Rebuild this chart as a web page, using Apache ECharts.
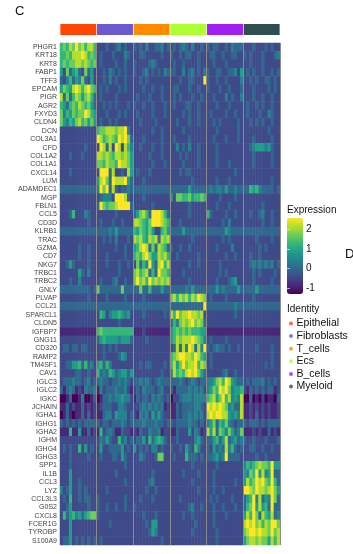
<!DOCTYPE html>
<html>
<head>
<meta charset="utf-8">
<title>Marker gene heatmap</title>
<script src="https://cdn.jsdelivr.net/npm/echarts@6/dist/echarts.min.js"></script>
<style>
  html, body { margin: 0; padding: 0; background: #fff; }
  #chart { width: 353px; height: 554px; }
</style>
</head>
<body>
<div id="chart"></div>
<script>
const groupNames = ['Epithelial', 'Fibroblasts', 'T_cells', 'Ecs', 'B_cells', 'Myeloid']
const groupColors = ['#FF4500', '#6A5ACD', '#FF8C00', '#ADFF2F', '#A020F0', '#2F4F4F']
const bandValues = [1, 1, 1, 1, 1, 1]
const cellsPerGroup = 12

const geneNames = [
    'PHGR1', 'KRT18', 'KRT8', 'FABP1', 'TFF3', 'EPCAM', 'PIGR', 'AGR2', 'FXYD3', 'CLDN4',
    'DCN', 'COL3A1', 'CFD', 'COL1A2', 'COL1A1', 'CXCL14', 'LUM', 'ADAMDEC1', 'MGP', 'FBLN1',
    'CCL5', 'CD3D', 'KLRB1', 'TRAC', 'GZMA', 'CD7', 'NKG7', 'TRBC1', 'TRBC2', 'GNLY',
    'PLVAP', 'CCL21', 'SPARCL1', 'CLDN5', 'IGFBP7', 'GNG11', 'CD320', 'RAMP2', 'TM4SF1', 'CAV1',
    'IGLC3', 'IGLC2', 'IGKC', 'JCHAIN', 'IGHA1', 'IGHG1', 'IGHA2', 'IGHM', 'IGHG4', 'IGHG3',
    'SPP1', 'IL1B', 'CCL3', 'LYZ', 'CCL3L3', 'G0S2', 'CXCL8', 'FCER1G', 'TYROBP', 'S100A9',
]

// each digit is one cell, looked up in levelValues
const levelValues = [-1.3, -0.87, -0.43, 0, 0.43, 0.87, 1.3, 1.73, 2.17, 2.6]

const epithelialRows = [
    '676879786886 222322342322 323242233423 232343242232 323322324333 222322232322',
    '667688898676 232223222432 223322222322 322323322322 233223223322 323222322234',
    '676778878767 232222322322 322223432222 232232222322 223222322222 223222322222',
    '527356327352 223243232322 322342323243 332242342324 322332233425 232322322323',
    '324635473252 223242322322 223232222222 222322332229 322322322224 223232233232',
    '576589868976 232322232322 222322322322 233222322322 322232232223 222322223232',
    '837368757863 232222322222 232223222322 232322232232 223222423224 222322322322',
    '653676876753 223232322232 322322322232 232223322322 222322232222 232232322322',
    '746576779865 222322232322 232222322232 222232322322 232222322322 232223224322',
    '754657867575 232232322222 223222232222 223222322322 223232222232 223232322322',
]
const fibroblastRows = [
    '222222222222 677888788942 222222322322 222232222222 222322222232 222222223222',
    '222222222222 986787698973 222322222322 232222322222 223222322232 222322222322',
    '222222223222 298382982864 223222322322 224232422322 222322222222 223455545322',
    '222322232222 887876887875 222223222322 222323222322 222322222222 222322222322',
    '222222222222 776877698875 222222322232 222232222322 222322232222 222322222322',
    '222322222222 299938223285 232223222222 222323322222 222222222322 222222222222',
    '222222222222 589739888953 222322222222 222222232222 222322232222 222222222322',
    '333333333333 497938323343 333333333333 333333533333 343443533433 336564333323',
    '222222222222 234442999832 222322222222 527766756676 222232222322 222222222222',
    '222222222222 397677899993 222222322222 222222322222 222322232222 222222322222',
]
const tCellRows = [
    '222362224322 222222322222 357863999863 222222322222 632222322322 223223422322',
    '222222222322 232223223222 887657999876 222322222222 222223242222 222222322322',
    '333333333333 333343533333 657657522675 333353333333 333333543333 333333333333',
    '222222222222 223232422232 878658783878 222222232222 222223232222 222232222322',
    '222222322322 222222322322 568983738763 322322322222 222322224222 222223232222',
    '222222322322 222322222322 676897558786 223222222322 222222322322 223223222222',
    '223532222322 222322232232 273649538968 222222322322 222232222222 223434343423',
    '222222532422 222222232222 786783639776 222232222222 222232322222 222323222232',
    '222322422222 232223422322 797869787878 222222322222 222322234522 222322222322',
    '333333333323 733333337333 337336333533 333334353333 333534333353 333353333333',
]
const endothelialRows = [
    '222222222322 222322222322 222322222222 786878687987 232222322222 222322222222',
    '333333333333 333333333333 333333333333 333333333339 333333333433 333333333333',
    '222222222222 265245565452 222322222232 869788988782 222222222322 222222222222',
    '222222222222 222222232222 222222222222 364787897873 222222222222 222222222222',
    '111111111111 676666666666 111211111111 567676766655 111111111111 111111111111',
    '222222222222 356555545553 222232222222 568788898764 232222322222 222222222222',
    '233233233222 223232322222 222222222222 238384983849 323433232232 222232222322',
    '222222222222 223222235422 222222222222 678998879865 232222222222 222222222322',
    '223355636342 563642222222 223233222232 685797889687 232222222222 222222232322',
    '222223322322 634365345535 222222222322 486768989753 222223422322 222222222222',
]
const bCellRows = [
    '233343323423 343323343432 334343234333 333432343233 445786985433 232333423232',
    '313431214334 142333433421 232433323422 313333434342 457698974556 213232323312',
    '001300140013 013343445442 132332434323 022344434444 678579684548 003010201103',
    '113121131212 123332244322 223434343412 113233334432 989898745338 112121212112',
    '013101131312 113442544423 214342535322 113233434342 898998854548 112131212112',
    '323232323333 323323334323 333433343323 323333433232 457365743233 323332323333',
    '111611511312 162343113221 213224334122 113222524312 858376475347 111212113121',
    '222222222222 243532263423 233526356532 223222224532 335635834534 322322232223',
    '232322625232 252233335232 523232442322 322325326422 325343846323 223322322322',
    '222322222322 232223325322 224322237722 232226333232 334534933332 222232232222',
]
const myeloidRows = [
    '222322222222 222222222322 222222222222 222222232222 222322222222 465678776955',
    '222522222222 222222322222 222222322222 222232222322 223222222222 547695845933',
    '222522322222 222222222322 222223422222 222222232222 223222222322 586798976963',
    '423522323222 222322222222 222232232222 222222222322 223223222222 998798878975',
    '232622323322 322222222322 223222322222 222322222222 232322223222 356948354973',
    '223522222322 322322322322 322222222222 222222342232 223223222322 367958563933',
    '263564535677 322222222222 222322232222 222232232222 223222322222 586973865834',
    '222522222222 222232222222 222232552222 222222223222 223222222222 898978687997',
    '222522222222 222222222222 222223542222 222222232222 222322222222 789989887978',
    '233523232323 232222222222 222222222322 222222222222 222322222222 578878775868',
]
const expressionRows = [].concat(epithelialRows, fibroblastRows, tCellRows, endothelialRows, bCellRows, myeloidRows)

const legendTicks = [-1, 0, 1, 2]
const viridis = ['#440154', '#482878', '#3E4A89', '#31688E', '#26828E', '#1F9E89', '#35B779', '#6DCD59', '#B4DE2C', '#FDE725']

const cellNames = []
for (let g = 0; g < groupNames.length; g++) {
    for (let c = 0; c < cellsPerGroup; c++) {
        cellNames.push(groupNames[g] + '_' + c)
    }
}

const cells = []
expressionRows.forEach(function (row, y) {
    row.replace(/ /g, '').split('').forEach(function (level, x) {
        cells.push([x, y, levelValues[+level]])
    })
})

const font = 'Liberation Sans'
const chart = echarts.init(document.getElementById('chart'), null, { renderer: 'canvas' })

const legendSeries = groupNames.map(function (name, i) {
    return {
        name: name,
        type: 'scatter',
        xAxisIndex: 1,
        yAxisIndex: 1,
        data: [],
        itemStyle: { color: groupColors[i] },
    }
})

chart.setOption({
    animation: false,
    backgroundColor: '#fff',
    grid: [
        { left: 60, top: 43, width: 220, height: 502 },
        { left: 60, top: 24, width: 220, height: 11 },
        { left: 287, top: 218, width: 16, height: 76 },
    ],
    xAxis: [
        {
            type: 'category',
            gridIndex: 0,
            data: cellNames,
            z: 5,
            axisLine: { show: false },
            axisTick: { show: false },
            axisLabel: { show: false },
            splitArea: { show: false },
            splitLine: {
                show: true,
                interval: function (i) { return i > 0 && i % cellsPerGroup === 0 },
                lineStyle: { color: '#8c8c8c', width: 1 },
            },
        },
        {
            type: 'category',
            gridIndex: 1,
            data: groupNames,
            axisLine: { show: false },
            axisTick: { show: false },
            axisLabel: { show: false },
            splitLine: { show: false },
        },
        { type: 'value', gridIndex: 2, min: 0, max: 1, show: false },
    ],
    yAxis: [
        {
            type: 'category',
            gridIndex: 0,
            inverse: true,
            data: geneNames,
            axisLine: { show: false },
            axisTick: { show: false },
            splitLine: { show: false },
            axisLabel: { interval: 0, fontSize: 7, fontFamily: font, color: '#444', margin: 3 },
        },
        { type: 'value', gridIndex: 1, min: 0, max: 1, show: false },
        {
            type: 'value',
            gridIndex: 2,
            position: 'right',
            min: -1.3,
            max: 2.6,
            z: 6,
            axisLine: { show: false },
            splitLine: { show: false },
            axisTick: { inside: true, length: 3, lineStyle: { color: '#fff', width: 0.6 }, customValues: legendTicks },
            axisLabel: {
                fontSize: 10,
                fontFamily: font,
                color: '#111',
                margin: 3,
                customValues: legendTicks,
                formatter: function (v) { return String(v) },
            },
        },
        {
            type: 'value',
            gridIndex: 2,
            position: 'left',
            min: -1.3,
            max: 2.6,
            z: 6,
            axisLine: { show: false },
            splitLine: { show: false },
            axisLabel: { show: false },
            axisTick: { inside: true, length: 3, lineStyle: { color: '#fff', width: 0.6 }, customValues: legendTicks },
        },
    ],
    visualMap: {
        type: 'continuous',
        seriesIndex: 0,
        min: -1.3,
        max: 2.6,
        left: 287,
        top: 218,
        itemWidth: 16,
        itemHeight: 76,
        padding: 0,
        calculable: false,
        hoverLink: false,
        inRange: { color: viridis },
        textStyle: { fontSize: 0 },
    },
    legend: {
        orient: 'vertical',
        left: 289,
        top: 318,
        padding: 0,
        itemGap: 1.6,
        itemWidth: 5,
        itemHeight: 4,
        icon: 'circle',
        selectedMode: false,
        data: groupNames,
        textStyle: { fontSize: 10.5, fontFamily: font, color: '#111', padding: [0, 0, 0, -2] },
    },
    graphic: [
        { type: 'text', left: 15, top: 5, style: { text: 'C', fontSize: 13, fontFamily: font, fill: '#111' } },
        { type: 'text', left: 345, top: 248, style: { text: 'D', fontSize: 13, fontFamily: font, fill: '#111' } },
        { type: 'text', left: 287, top: 205, style: { text: 'Expression', fontSize: 10, fontFamily: font, fill: '#111' } },
        { type: 'text', left: 287, top: 304, style: { text: 'Identity', fontSize: 10, fontFamily: font, fill: '#111' } },
    ],
    series: [
        {
            type: 'heatmap',
            xAxisIndex: 0,
            yAxisIndex: 0,
            data: cells,
            progressive: 0,
            silent: true,
            itemStyle: { borderWidth: 0 },
        },
        {
            type: 'bar',
            xAxisIndex: 1,
            yAxisIndex: 1,
            barCategoryGap: '2%',
            silent: true,
            data: bandValues.map(function (v, i) {
                return { value: v, itemStyle: { color: groupColors[i] } }
            }),
        },
    ].concat(legendSeries),
})
</script>
</body>
</html>
